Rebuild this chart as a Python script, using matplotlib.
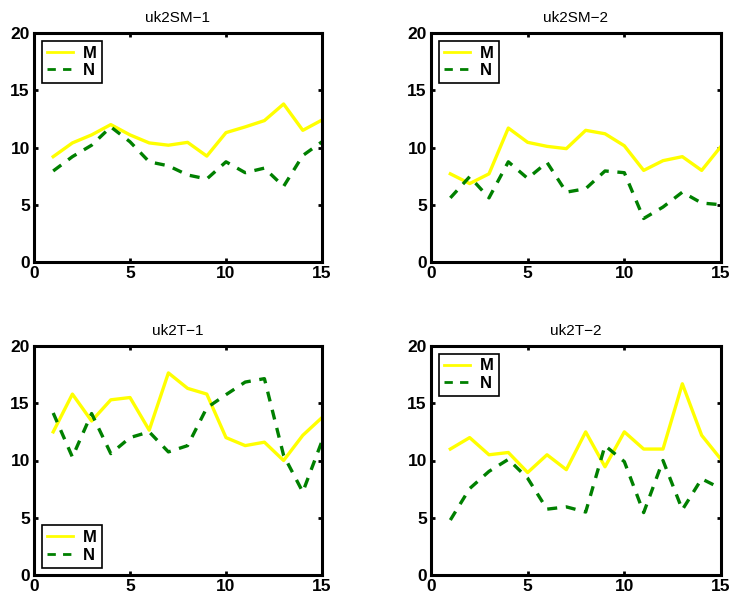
import numpy as np
import matplotlib
matplotlib.use("Agg")
import matplotlib.pyplot as plt

plt.rcParams['font.family'] = ['Liberation Sans', 'DejaVu Sans']

x = np.arange(1, 16)

titles = ['uk2SM\u22121', 'uk2SM\u22122', 'uk2T\u22121', 'uk2T\u22122']

m_sm1 = [9.2, 10.4, 11.1, 12.0, 11.1, 10.4, 10.2, 10.45, 9.25, 11.3, 11.8, 12.35, 13.8, 11.5, 12.4]
n_sm1 = [7.95, 9.2, 10.2, 11.8, 10.5, 8.75, 8.4, 7.6, 7.25, 8.75, 7.8, 8.2, 6.6, 9.3, 10.5]

m_sm2 = [7.7, 6.85, 7.7, 11.7, 10.45, 10.1, 9.9, 11.5, 11.2, 10.15, 8.0, 8.85, 9.2, 8.0, 10.1]
n_sm2 = [5.6, 7.45, 5.6, 8.75, 7.3, 8.7, 6.1, 6.4, 7.95, 7.8, 3.8, 4.8, 6.1, 5.15, 5.0]

m_t1 = [12.5, 15.8, 13.45, 15.3, 15.5, 12.65, 17.65, 16.3, 15.8, 12.0, 11.3, 11.6, 10.0, 12.2, 13.75]
n_t1 = [14.15, 10.3, 14.1, 10.6, 12.0, 12.5, 10.75, 11.3, 14.6, 15.75, 16.85, 17.15, 10.45, 7.25, 11.7]

m_t2 = [11.0, 12.0, 10.5, 10.7, 8.95, 10.5, 9.2, 12.5, 9.45, 12.5, 11.0, 11.0, 16.7, 12.2, 10.1]
n_t2 = [4.8, 7.55, 9.05, 10.1, 8.45, 5.75, 5.95, 5.5, 11.3, 9.9, 5.45, 10.0, 5.7, 8.4, 7.55]

m_all = [m_sm1, m_sm2, m_t1, m_t2]
n_all = [n_sm1, n_sm2, n_t1, n_t2]
legend_loc = ['upper left', 'upper left', 'lower left', 'upper left']

fig = plt.figure(figsize=(7.3, 5.97), dpi=100)
W, H = 730, 597
# axes boxes in pixels: left, top, right, bottom
boxes = [(34, 33, 322, 262), (431, 33, 721, 262),
         (34, 346, 322, 575), (431, 346, 721, 575)]

for i in range(4):
    l, t, r, b = boxes[i]
    ax = fig.add_axes([l / W, 1 - b / H, (r - l) / W, (b - t) / H])
    ax.plot(x, m_all[i], color='#ffff00', lw=2.4, label='M')
    ax.plot(x, n_all[i], color='#008000', lw=2.4, ls=(0, (3, 2.6)), label='N')
    ax.set_xlim(0, 15)
    ax.set_ylim(0, 20)
    ax.set_xticks([0, 5, 10, 15])
    ax.set_yticks([0, 5, 10, 15, 20])
    ax.tick_params(direction='in', length=3, width=2, top=True, right=True,
                   labelsize=12.5, pad=3)
    for lab in ax.get_xticklabels() + ax.get_yticklabels():
        lab.set_fontweight('bold')
    for sp in ax.spines.values():
        sp.set_linewidth(2.2)
    ax.set_title(titles[i], fontsize=11, pad=8)
    leg = ax.legend(loc=legend_loc[i], fancybox=False, framealpha=1,
                    edgecolor='black', handlelength=1.6, handletextpad=0.6,
                    borderpad=0.3, labelspacing=0.15, borderaxespad=0.45,
                    prop={'weight': 'bold', 'size': 12})
    leg.get_frame().set_linewidth(1.2)
    for ln in leg.get_lines():
        ln.set_linewidth(2)

fig.savefig('out.png', dpi=100)
